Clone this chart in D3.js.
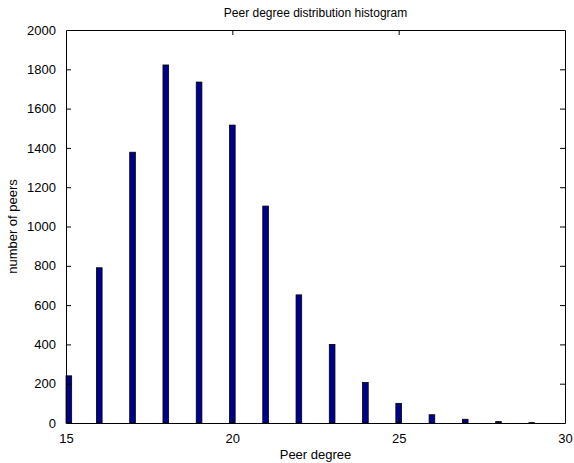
<!DOCTYPE html>
<html>
<head>
<meta charset="utf-8">
<script src="https://cdn.jsdelivr.net/npm/d3@7"></script>
<style>
  body { margin: 0; background: #fff; }
  svg { font-family: "Liberation Sans", Arial, sans-serif; }
</style>
</head>
<body>
<div id="chart"></div>
<script>
// peer degree bins and counts
const degrees = [15, 16, 17, 18, 19, 20, 21, 22, 23, 24, 25, 26, 27, 28, 29];
const counts = [240, 790, 1378, 1822, 1735, 1516, 1104, 652, 400, 206, 100, 42, 19, 7, 2];
const xTicks = [15, 20, 25, 30];
const yTicks = [0, 200, 400, 600, 800, 1000, 1200, 1400, 1600, 1800, 2000];

const width = 574, height = 463;
const margin = { top: 30, right: 9, bottom: 40, left: 66 };
const barW = 0.17; // in x units

const svg = d3.select("#chart").append("svg")
  .attr("width", width)
  .attr("height", height);

const x = d3.scaleLinear().domain([15, 30]).range([margin.left, width - margin.right]);
const y = d3.scaleLinear().domain([0, 2000]).range([height - margin.bottom, margin.top]);

const data = degrees.map((d, i) => ({ deg: d, n: counts[i] }));
const bw = x(15 + barW) - x(15);

// bars (the first bin is pushed against the left axis, as in the original)
svg.append("g")
  .selectAll("rect")
  .data(data)
  .join("rect")
  .attr("x", d => Math.max(x(d.deg) - bw / 2, x(15)))
  .attr("width", bw)
  .attr("y", d => y(d.n))
  .attr("height", d => y(0) - y(d.n))
  .attr("fill", "#00008f")
  .attr("stroke", "#000")
  .attr("stroke-width", 0.8);

const tickLen = 5;
const fmt = d3.format("d");

// bottom axis, ticks inward
const xAxis = svg.append("g")
  .attr("transform", `translate(0,${y(0)})`)
  .call(d3.axisBottom(x).tickValues(xTicks).tickFormat(fmt).tickSizeInner(-tickLen).tickSizeOuter(0).tickPadding(11));
// top axis mirror
const xTop = svg.append("g")
  .attr("transform", `translate(0,${y(2000)})`)
  .call(d3.axisTop(x).tickValues(xTicks).tickSizeInner(-tickLen).tickSizeOuter(0).tickFormat(""));
// left axis
const yAxis = svg.append("g")
  .attr("transform", `translate(${x(15)},0)`)
  .call(d3.axisLeft(y).tickValues(yTicks).tickFormat(fmt).tickSizeInner(-tickLen).tickSizeOuter(0).tickPadding(10));
// right axis mirror
const yRight = svg.append("g")
  .attr("transform", `translate(${x(30)},0)`)
  .call(d3.axisRight(y).tickValues(yTicks).tickSizeInner(-tickLen).tickSizeOuter(0).tickFormat(""));

[xAxis, xTop, yAxis, yRight].forEach(g => {
  g.select(".domain").attr("stroke", "#000").attr("stroke-width", 1);
  g.selectAll(".tick line").attr("stroke", "#000");
  g.selectAll("text").attr("font-size", 13).attr("fill", "#000")
    .attr("font-family", "'Liberation Sans', Arial, sans-serif");
});

// remove ticks at the box corners so the box edges stay clean
xAxis.selectAll(".tick").filter(d => d === 15 || d === 30).select("line").remove();
xTop.selectAll(".tick").filter(d => d === 15 || d === 30).select("line").remove();
yAxis.selectAll(".tick").filter(d => d === 0 || d === 2000).select("line").remove();
yRight.selectAll(".tick").filter(d => d === 0 || d === 2000).select("line").remove();

svg.append("text")
  .attr("x", (margin.left + width - margin.right) / 2)
  .attr("y", 17)
  .attr("text-anchor", "middle")
  .attr("font-size", 12)
  .text("Peer degree distribution histogram");

svg.append("text")
  .attr("x", (margin.left + width - margin.right) / 2)
  .attr("y", 459)
  .attr("text-anchor", "middle")
  .attr("font-size", 13)
  .text("Peer degree");

svg.append("text")
  .attr("transform", `translate(17,${(margin.top + height - margin.bottom) / 2}) rotate(-90)`)
  .attr("text-anchor", "middle")
  .attr("font-size", 13)
  .text("number of peers");
</script>
</body>
</html>
